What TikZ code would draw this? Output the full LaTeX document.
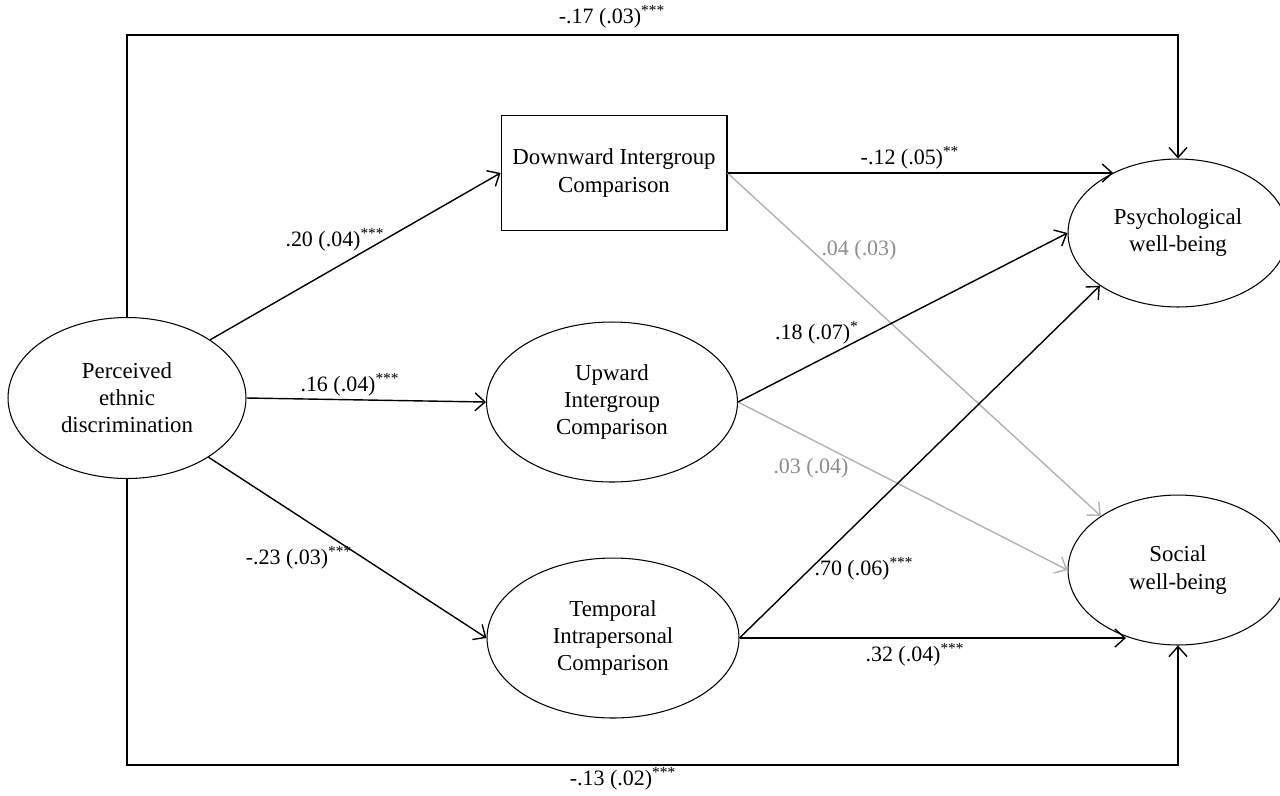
\documentclass[tikz,border=0pt]{standalone}
\usepackage{fontspec}
\setmainfont{Liberation Serif}
\usetikzlibrary{shapes.geometric,arrows.meta}
\definecolor{nsgrey}{RGB}{178,178,178}
\definecolor{nstext}{RGB}{140,140,140}
\newcommand{\sig}[1]{\textsuperscript{#1}}

\begin{document}
\begin{tikzpicture}[x=0.02cm,y=-0.02cm,
  >={Straight Barb[length=2mm,width=3.6mm]},
  every node/.style={font=\fontsize{12.5}{15.4}\selectfont},
  construct/.style={font=\fontsize{13}{15.4}\selectfont},
  latent/.style={construct,draw,ellipse,inner sep=0pt,align=center,line width=0.6pt},
  observed/.style={construct,draw,rectangle,inner sep=0pt,align=center,line width=0.6pt},
  sigline/.style={->,line width=0.8pt},
  nsline/.style={->,line width=0.8pt,draw=nsgrey}]
\useasboundingbox (0,0) rectangle (1280,795);
% constructs
\node [latent,minimum width=4.76cm,minimum height=3.22cm] (perc) at (127,398) {Perceived\\ethnic\\discrimination};
\node [observed,minimum width=4.52cm,minimum height=2.3cm] (down) at (614,173) {Downward Intergroup\\Comparison};
\node [latent,minimum width=5.02cm,minimum height=3.2cm] (up) at (612,402) {Upward\\Intergroup\\Comparison};
\node [latent,minimum width=5.04cm,minimum height=3.2cm] (temp) at (613,638) {Temporal\\Intrapersonal\\Comparison};
\node [latent,minimum width=4.4cm,minimum height=2.96cm] (psych) at (1178,233) {Psychological\\well-being};
\node [latent,minimum width=4.4cm,minimum height=3.0cm] (social) at (1178,570) {Social\\well-being};
\coordinate (toprow) at (0,35);
\coordinate (botrow) at (0,765);
% direct paths
\draw [sigline] (perc.north) -- (perc.north |- toprow) -- (psych.north |- toprow) -- (psych.north);
\draw (612,17) node (ltop) {-.17 (.03)\sig{***}};
\draw [sigline] (perc.south) -- (perc.south |- botrow) -- (social.south |- botrow) -- (social.south);
\draw (623,779) node (lbot) {-.13 (.02)\sig{***}};
% a paths
\draw [sigline] (perc.35) -- (down.west);
\draw (335,240) node (lpd) {.20 (.04)\sig{***}};
\draw [sigline] (perc.east) -- (up.west);
\draw (350,385) node (lpu) {.16 (.04)\sig{***}};
\draw [sigline] (perc.-36) -- (temp.west);
\draw (299,558) node (lpt) {-.23 (.03)\sig{***}};
% b paths
\draw [nsline] (down.east) -- (social.145);
\draw (859,250) node [text=nstext] (lds) {.04 (.03)};
\draw [nsline] (up.east) -- (social.west);
\draw (811,468) node [text=nstext] (lus) {.03 (.04)};
\draw [sigline] (down.east) -- (down.east -| psych.137);
\draw (910,158) node (ldp) {-.12 (.05)\sig{**}};
\draw [sigline] (up.east) -- (psych.west);
\draw (817,333) node (lup) {.18 (.07)\sig{*}};
\draw [sigline] (temp.east) -- (psych.214);
\draw (864,569) node (ltp) {.70 (.06)\sig{***}};
\draw [sigline] (temp.east) -- (temp.east -| social.232);
\draw (915,655) node (lts) {.32 (.04)\sig{***}};
\end{tikzpicture}
\end{document}
